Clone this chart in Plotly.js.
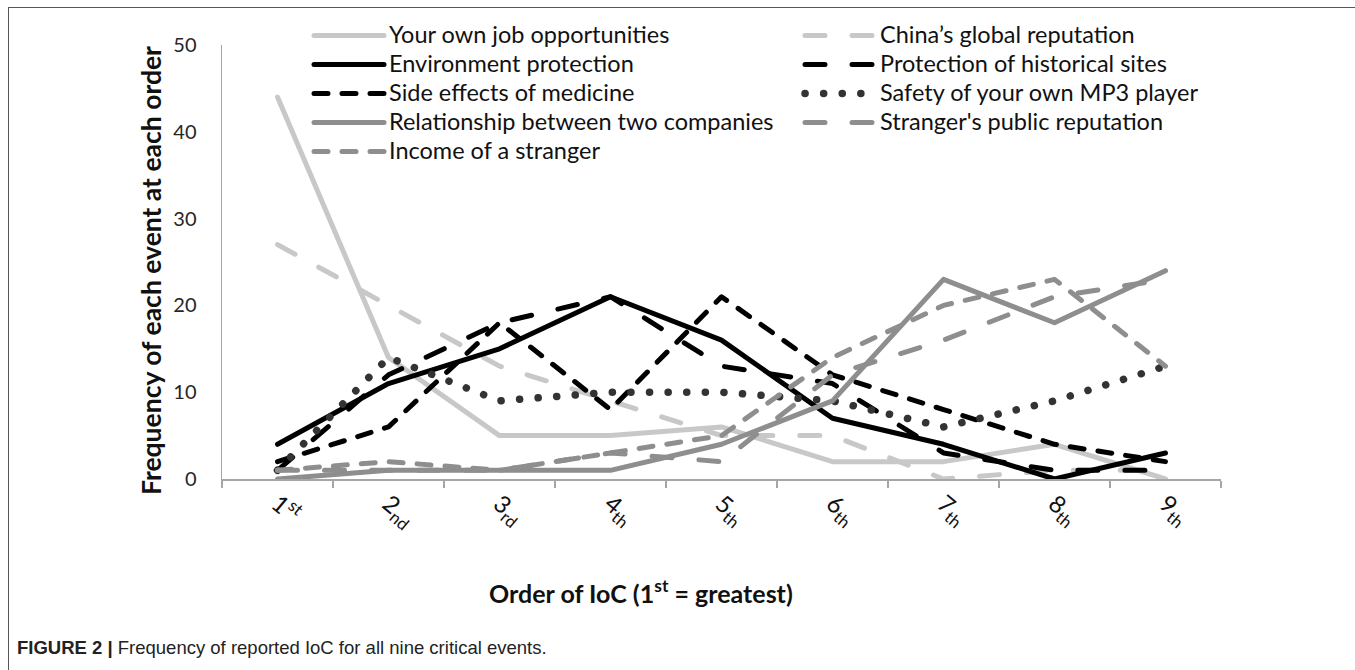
<!DOCTYPE html>
<html>
<head>
<meta charset="utf-8">
<script src="https://cdn.plot.ly/plotly-3.0.1.min.js"></script>
<style>
  body { margin: 0; background: #ffffff; }
  #wrap { position: relative; width: 1355px; height: 670px; overflow: hidden; }
  #chart { position: absolute; left: 0; top: 0; width: 1355px; height: 670px; }
  #frame { position: absolute; left: 8px; top: 7px; right: -2px; bottom: -2px;
           border-top: 1.5px solid #555; border-left: 1.5px solid #555; pointer-events: none; }
  .scatterlayer .js-line, .legend .js-line { stroke-linecap: round; stroke-linejoin: round; }
</style>
</head>
<body>
<div id="wrap">
  <div id="chart"></div>
  <div id="frame"></div>
</div>
<script>
// ---- data ----
var categories = ['1<sup>st</sup>', '2<sub>nd</sub>', '3<sub>rd</sub>', '4<sub>th</sub>', '5<sub>th</sub>',
                  '6<sub>th</sub>', '7<sub>th</sub>', '8<sub>th</sub>', '9<sub>th</sub>'];
var seriesNames = ['Your own job opportunities', 'China\u2019s global reputation', 'Environment protection',
                   'Protection of historical sites', 'Side effects of medicine', 'Safety of your own MP3 player',
                   'Relationship between two companies', "Stranger's public reputation", 'Income of a stranger'];
var jobOpportunities   = [44, 14, 5, 5, 6, 2, 2, 4, 0];
var chinaReputation    = [27, 20, 13, 9, 5, 5, 0, 1, 1];
var environment        = [4, 11, 15, 21, 16, 7, 4, 0, 3];
var historicalSites    = [1, 12, 18, 21, 13, 11, 3, 1, 1];
var medicineEffects    = [2, 6, 18, 8, 21, 12, 8, 4, 2];
var mp3Safety          = [1, 14, 9, 10, 10, 9, 6, 9, 13];
var companyRelation    = [0, 1, 1, 1, 4, 9, 23, 18, 24];
var strangerReputation = [1, 1, 1, 3, 2, 12, 16, 21, 23];
var strangerIncome     = [1, 2, 1, 3, 5, 14, 20, 23, 13];
var yTicks = [0, 10, 20, 30, 40, 50];

// ---- styles ----
var LIGHT = '#c8c8c8', BLACK = '#000000', DARK = '#333333', MID = '#8e8e8e';
var LONG = '20px,27px', DASH = '14px,14px', DOT = '0.1px,18.5px';
var LW = 5;
var styles = [
  {color: LIGHT, dash: 'solid', width: LW},
  {color: LIGHT, dash: LONG, width: LW},
  {color: BLACK, dash: 'solid', width: LW},
  {color: BLACK, dash: LONG, width: LW},
  {color: BLACK, dash: DASH, width: LW},
  {color: DARK, dash: DOT, width: 7.5},
  {color: MID, dash: 'solid', width: LW},
  {color: MID, dash: LONG, width: LW},
  {color: MID, dash: DASH, width: LW}
];
var allSeries = [jobOpportunities, chinaReputation, environment, historicalSites, medicineEffects,
                 mp3Safety, companyRelation, strangerReputation, strangerIncome];

var traces = allSeries.map(function (vals, i) {
  return {
    type: 'scatter', mode: 'lines',
    name: '<span style="font-size:23.5px">' + seriesNames[i] + '</span>',
    x: categories, y: vals,
    line: {color: styles[i].color, dash: styles[i].dash, width: styles[i].width, shape: 'linear'},
    hoverinfo: 'skip'
  };
});

var FONT = 'Lato, "Open Sans", sans-serif';
var layout = {
  width: 1355, height: 670,
  margin: {l: 222, r: 134, t: 45, b: 191, autoexpand: false},
  paper_bgcolor: 'rgba(0,0,0,0)', plot_bgcolor: 'rgba(0,0,0,0)',
  font: {family: FONT, color: '#262626'},
  showlegend: true,
  legend: {
    orientation: 'h', xref: 'container', yref: 'container',
    x: 309 / 1355, y: 1 - 16 / 670, xanchor: 'left', yanchor: 'top',
    itemwidth: 70, entrywidth: 406, entrywidthmode: 'pixels',
    font: {family: FONT, size: 20, color: '#111'},
    bgcolor: 'rgba(0,0,0,0)', traceorder: 'normal', itemclick: false
  },
  xaxis: {
    type: 'category', range: [-0.5, 8.5], tickson: 'boundaries',
    ticks: 'outside', ticklen: 7, tickwidth: 1.5, tickcolor: '#a6a6a6',
    showline: true, linecolor: '#a6a6a6', linewidth: 1.5, showgrid: false, zeroline: false,
    tickangle: 40, tickfont: {family: FONT, size: 24, color: '#111'},
    fixedrange: true
  },
  yaxis: {
    range: [0, 50], tickvals: yTicks, ticks: '', showline: true, linecolor: '#a6a6a6', linewidth: 1.5,
    showgrid: false, zeroline: false, tickfont: {family: FONT, size: 20, color: '#262626'},
    ticklabelstandoff: 20, fixedrange: true
  },
  annotations: [
    {text: '<b>Frequency of each event at each order</b>', textangle: -90,
     xref: 'paper', yref: 'paper', x: (151 - 222) / 999, y: (479 - 271) / 434,
     xanchor: 'center', yanchor: 'middle', showarrow: false,
     font: {family: FONT, size: 26.5, color: '#111'}},
    {text: '<b>Order of IoC (1<sup>st</sup> = greatest)</b>',
     xref: 'paper', yref: 'paper', x: (641 - 222) / 999, y: -(591 - 479) / 434,
     xanchor: 'center', yanchor: 'middle', showarrow: false,
     font: {family: FONT, size: 25, color: '#111'}},
    {text: '<b>FIGURE 2 |</b> Frequency of reported IoC for all nine critical events.',
     xref: 'paper', yref: 'paper', x: (15 - 222) / 999, y: -(647 - 479) / 434,
     xanchor: 'left', yanchor: 'middle', showarrow: false, align: 'left',
     font: {family: '"Liberation Sans", Arial, sans-serif', size: 18.5, color: '#222'}}
  ]
};

Plotly.newPlot('chart', traces, layout, {displayModeBar: false, staticPlot: true});
</script>
</body>
</html>
